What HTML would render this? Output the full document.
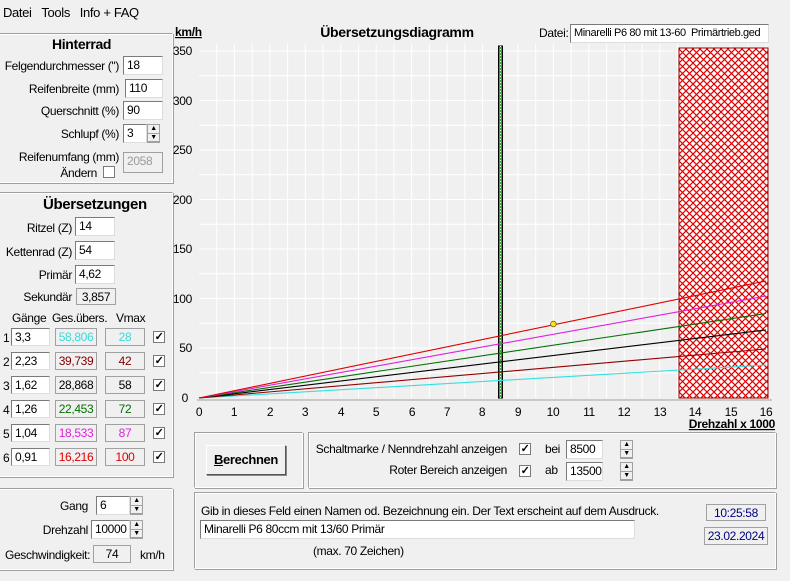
<!DOCTYPE html>
<html><head><meta charset="utf-8"><style>
body{margin:0;width:790px;height:581px;background:#f0f0f0;font-family:"Liberation Sans",sans-serif;font-size:12px;letter-spacing:-0.35px;color:#000;position:relative;overflow:hidden}
.a{position:absolute;white-space:nowrap}
.r{text-align:right}
.in{position:absolute;background:#fff;border:1px solid #7a7a7a;border-right-color:#ddd;border-bottom-color:#ddd;box-sizing:border-box;padding:1px 3px;font-size:12px;line-height:15px;white-space:nowrap;overflow:hidden}
.ro{position:absolute;background:#f0f0f0;border:1px solid #a0a0a0;box-sizing:border-box;text-align:center;font-size:12px;line-height:16px}
.grp{position:absolute;border:1px solid #a0a0a0;border-right-color:#fff;border-bottom-color:#fff;box-shadow:1px 1px 0 #a0a0a0,inset 1px 1px 0 #fff;box-sizing:border-box}
.cb{position:absolute;width:12px;height:12px;background:#fff;border:1px solid #7a7a7a;box-sizing:border-box;font-size:11px;line-height:10px;text-align:center;font-weight:bold}
.sp{position:absolute;width:13px;border:1px solid #a0a0a0;box-sizing:border-box;background:#f0f0f0}
.sp div{height:50%;font-size:7px;line-height:8px;text-align:center;border-bottom:1px solid #a0a0a0;box-sizing:border-box}
</style></head><body>
<div class="a" style="left:3px;top:5px;font-size:13px">Datei&nbsp;&nbsp;&nbsp;Tools&nbsp;&nbsp;&nbsp;Info + FAQ</div>

<!-- Hinterrad -->
<div class="grp" style="left:-2px;top:33px;width:175px;height:150px"></div>
<div class="a" style="left:52px;top:36px;font-size:14px;font-weight:bold">Hinterrad</div>
<div class="a r" style="left:0;width:119px;top:59px">Felgendurchmesser (")</div><div class="in" style="left:123px;top:56px;width:40px;height:19px">18</div>
<div class="a r" style="left:0;width:119px;top:82px">Reifenbreite (mm)</div><div class="in" style="left:125px;top:79px;width:38px;height:19px">110</div>
<div class="a r" style="left:0;width:119px;top:104px">Querschnitt (%)</div><div class="in" style="left:123px;top:101px;width:40px;height:19px">90</div>
<div class="a r" style="left:0;width:119px;top:127px">Schlupf (%)</div><div class="in" style="left:123px;top:124px;width:24px;height:19px">3</div>
<div class="sp" style="left:147px;top:124px;height:19px"><div>▲</div><div>▼</div></div>
<div class="a r" style="left:0;width:119px;top:150px">Reifenumfang (mm)</div>
<div class="a r" style="left:0;width:97px;top:166px">Ändern</div><div class="cb" style="left:103px;top:166px"></div>
<div class="ro" style="left:123px;top:152px;width:40px;height:21px;color:#999;text-align:left;padding-left:3px">2058</div>

<!-- Übersetzungen -->
<div class="grp" style="left:-2px;top:192px;width:175px;height:285px"></div>
<div class="a" style="left:43px;top:196px;font-size:15px;font-weight:bold">Übersetzungen</div>
<div class="a r" style="left:0;width:72px;top:221px">Ritzel (Z)</div><div class="in" style="left:75px;top:217px;width:40px;height:19px">14</div>
<div class="a r" style="left:0;width:72px;top:245px">Kettenrad (Z)</div><div class="in" style="left:75px;top:241px;width:40px;height:19px">54</div>
<div class="a r" style="left:0;width:72px;top:268px">Primär</div><div class="in" style="left:75px;top:265px;width:40px;height:19px">4,62</div>
<div class="a r" style="left:0;width:72px;top:290px">Sekundär</div><div class="ro" style="left:76px;top:288px;width:40px;height:17px">3,857</div>
<div class="a" style="left:12px;top:311px">Gänge</div><div class="a" style="left:52px;top:311px">Ges.übers.</div><div class="a" style="left:116px;top:311px">Vmax</div>

<div class="a" style="left:3px;top:331px">1</div><div class="in" style="left:11px;top:328px;width:39px;height:18px">3,3</div><div class="ro" style="left:55px;top:328px;width:42px;height:18px;color:#33dddd">58,806</div><div class="ro" style="left:105px;top:328px;width:40px;height:18px;color:#33dddd">28</div><div class="cb" style="left:153px;top:331px">✓</div>
<div class="a" style="left:3px;top:355px">2</div><div class="in" style="left:11px;top:352px;width:39px;height:18px">2,23</div><div class="ro" style="left:55px;top:352px;width:42px;height:18px;color:#800000">39,739</div><div class="ro" style="left:105px;top:352px;width:40px;height:18px;color:#800000">42</div><div class="cb" style="left:153px;top:355px">✓</div>
<div class="a" style="left:3px;top:379px">3</div><div class="in" style="left:11px;top:376px;width:39px;height:18px">1,62</div><div class="ro" style="left:55px;top:376px;width:42px;height:18px">28,868</div><div class="ro" style="left:105px;top:376px;width:40px;height:18px">58</div><div class="cb" style="left:153px;top:379px">✓</div>
<div class="a" style="left:3px;top:403px">4</div><div class="in" style="left:11px;top:400px;width:39px;height:18px">1,26</div><div class="ro" style="left:55px;top:400px;width:42px;height:18px;color:#007000">22,453</div><div class="ro" style="left:105px;top:400px;width:40px;height:18px;color:#007000">72</div><div class="cb" style="left:153px;top:403px">✓</div>
<div class="a" style="left:3px;top:427px">5</div><div class="in" style="left:11px;top:424px;width:39px;height:18px">1,04</div><div class="ro" style="left:55px;top:424px;width:42px;height:18px;color:#dd22dd">18,533</div><div class="ro" style="left:105px;top:424px;width:40px;height:18px;color:#dd22dd">87</div><div class="cb" style="left:153px;top:427px">✓</div>
<div class="a" style="left:3px;top:451px">6</div><div class="in" style="left:11px;top:448px;width:39px;height:18px">0,91</div><div class="ro" style="left:55px;top:448px;width:42px;height:18px;color:#dd0000">16,216</div><div class="ro" style="left:105px;top:448px;width:40px;height:18px;color:#dd0000">100</div><div class="cb" style="left:153px;top:451px">✓</div>

<!-- Gang box -->
<div class="grp" style="left:-2px;top:488px;width:175px;height:82px"></div>
<div class="a r" style="left:0;width:88px;top:499px">Gang</div><div class="in" style="left:96px;top:496px;width:34px;height:19px">6</div>
<div class="sp" style="left:130px;top:496px;height:19px"><div>▲</div><div>▼</div></div>
<div class="a r" style="left:0;width:88px;top:523px">Drehzahl</div><div class="in" style="left:91px;top:520px;width:39px;height:19px">10000</div>
<div class="sp" style="left:130px;top:520px;height:19px"><div>▲</div><div>▼</div></div>
<div class="a" style="left:5px;top:548px">Geschwindigkeit:</div><div class="ro" style="left:93px;top:545px;width:38px;height:18px">74</div><div class="a" style="left:140px;top:548px">km/h</div>

<!-- chart -->
<svg class="a" style="left:0;top:0" width="790" height="581" font-family="Liberation Sans, sans-serif" font-size="12" letter-spacing="-0.3">
<defs>
<pattern id="h" width="7" height="7" patternUnits="userSpaceOnUse">
<rect width="7" height="7" fill="#fff"/>
<path d="M0 0L7 7M7 0L0 7" stroke="#e00000" stroke-width="1.2"/>
</pattern>
</defs>
<rect x="197" y="44" width="575" height="356" fill="#f0f0f0"/>
<g stroke="#fff" stroke-width="1">
<path d="M216.7 44V398M252.2 44V398M287.6 44V398M323 44V398M358.5 44V398M393.9 44V398M429.4 44V398M464.8 44V398M500.2 44V398M535.7 44V398M571.1 44V398M606.6 44V398M642 44V398M677.4 44V398M712.9 44V398M748.3 44V398"/>
<path d="M234.4 44V398M269.9 44V398M305.3 44V398M340.8 44V398M376.2 44V398M411.6 44V398M447.1 44V398M482.5 44V398M518 44V398M553.4 44V398M588.8 44V398M624.3 44V398M659.7 44V398M695.2 44V398M730.6 44V398M766 44V398"/>
<path d="M199 51H768M199 75.8H768M199 100.5H768M199 125.3H768M199 150H768M199 174.8H768M199 199.5H768M199 224.3H768M199 249H768M199 273.8H768M199 298.5H768M199 323.3H768M199 348H768M199 372.8H768"/>
</g>
<line x1="197" y1="400" x2="772" y2="400" stroke="#a0a0a0"/>
<rect x="679" y="48" width="89" height="350" fill="url(#h)" stroke="#900" stroke-width="1"/>
<rect x="498.5" y="46" width="4" height="352" fill="#3a3" stroke="#000" stroke-width="1"/>
<line x1="500.5" y1="46" x2="500.5" y2="398" stroke="#fff" stroke-dasharray="1 2"/>
<g stroke-width="1.1" fill="none">
<line x1="199" y1="398" x2="766" y2="365" stroke="#33e0e0"/>
<line x1="199" y1="398" x2="766" y2="349" stroke="#900000"/>
<line x1="199" y1="398" x2="766" y2="330" stroke="#000"/>
<line x1="199" y1="398" x2="766" y2="313.5" stroke="#007000"/>
<line x1="199" y1="398" x2="766" y2="296" stroke="#e020e0"/>
<line x1="199" y1="398" x2="766" y2="281" stroke="#e00000"/>
</g>
<circle cx="553.4" cy="324" r="2.8" fill="#ffe020" stroke="#806000" stroke-width="0.8"/>
<g text-anchor="end">
<text x="192" y="55">350</text><text x="192" y="105">300</text><text x="192" y="154">250</text><text x="192" y="204">200</text><text x="192" y="253">150</text><text x="192" y="303">100</text><text x="192" y="352">50</text><text x="188" y="402">0</text>
</g>
<g text-anchor="middle">
<text x="199" y="416">0</text><text x="234" y="416">1</text><text x="270" y="416">2</text><text x="305" y="416">3</text><text x="341" y="416">4</text><text x="376" y="416">5</text><text x="412" y="416">6</text><text x="447" y="416">7</text><text x="482" y="416">8</text><text x="518" y="416">9</text><text x="553" y="416">10</text><text x="589" y="416">11</text><text x="624" y="416">12</text><text x="660" y="416">13</text><text x="695" y="416">14</text><text x="731" y="416">15</text><text x="766" y="416">16</text>
</g>
<text x="175" y="36" font-weight="bold" text-decoration="underline">km/h</text>
<text x="397" y="37" text-anchor="middle" font-weight="bold" font-size="14">Übersetzungsdiagramm</text>
<text x="539" y="37">Datei:</text>
<text x="775" y="428" text-anchor="end" font-weight="bold" text-decoration="underline">Drehzahl x 1000</text>
</svg>
<div class="in" style="left:570px;top:24px;width:199px;height:19px;font-size:11px;letter-spacing:-0.4px">Minarelli P6 80 mit 13-60&nbsp; Primärtrieb.ged</div>

<!-- bottom -->
<div class="grp" style="left:194px;top:432px;width:109px;height:56px"></div>
<div class="a" style="left:206px;top:445px;width:78px;height:28px;border:1px solid #fff;border-right-color:#555;border-bottom-color:#555;box-shadow:1px 1px 0 #888;text-align:center;line-height:28px;font-weight:bold;font-size:13px"><u>B</u>erechnen</div>
<div class="grp" style="left:308px;top:432px;width:468px;height:56px"></div>
<div class="a r" style="left:300px;width:207px;top:442px">Schaltmarke / Nenndrehzahl anzeigen</div><div class="cb" style="left:519px;top:443px">✓</div><div class="a" style="left:545px;top:442px">bei</div>
<div class="in" style="left:566px;top:440px;width:37px;height:19px">8500</div><div class="sp" style="left:620px;top:440px;height:19px"><div>▲</div><div>▼</div></div>
<div class="a r" style="left:300px;width:207px;top:463px">Roter Bereich anzeigen</div><div class="cb" style="left:519px;top:465px">✓</div><div class="a" style="left:545px;top:463px">ab</div>
<div class="in" style="left:566px;top:462px;width:37px;height:19px">13500</div><div class="sp" style="left:620px;top:462px;height:19px"><div>▲</div><div>▼</div></div>

<div class="grp" style="left:194px;top:492px;width:582px;height:77px"></div>
<div class="a" style="left:201px;top:504px">Gib in dieses Feld einen Namen od. Bezeichnung ein. Der Text erscheint auf dem Ausdruck.</div>
<div class="in" style="left:200px;top:520px;width:435px;height:19px">Minarelli P6 80ccm mit 13/60 Primär</div>
<div class="a" style="left:313px;top:544px">(max. 70 Zeichen)</div>
<div class="ro" style="left:706px;top:504px;width:60px;height:17px;color:#000080">10:25:58</div>
<div class="ro" style="left:704px;top:527px;width:64px;height:18px;color:#000080">23.02.2024</div>
</body></html>
